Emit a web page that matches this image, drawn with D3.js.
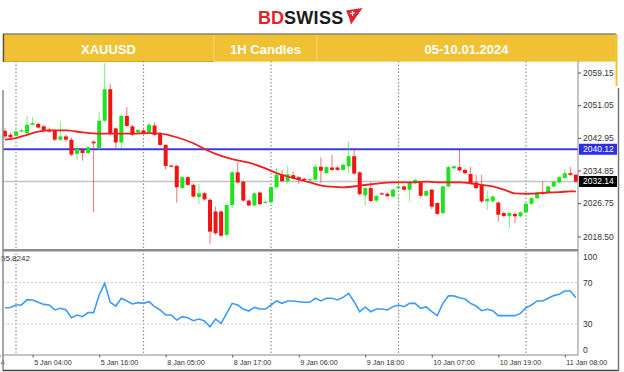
<!DOCTYPE html>
<html>
<head>
<meta charset="utf-8">
<script src="https://cdn.jsdelivr.net/npm/d3@7"></script>
<style>
  body { margin: 0; background: #fff; }
  svg { display: block; font-family: "Liberation Sans", Arial, sans-serif; }
</style>
</head>
<body>
<svg id="chart"></svg>
<script>
// ---- data ----
const symbol = 'XAUUSD';
const timeframe = '1H Candles';
const period = '05-10.01.2024';

// hourly bars, index 0 = 4 Jan 22:00
const opens = [2044.7,2043.7,2043.5,2044.5,2044.1,2046.2,2046.4,2045.8,2045.0,2044.8,2042.5,2043.3,2042.5,2039.0,2040.0,2039.2,2042.0,2040.4,2047.2,2055.0,
  2045.3,2041.8,2048.4,2045.8,2044.3,2044.8,2044.3,2046.0,2044.1,2041.2,2036.1,2036.0,2030.5,2033.2,2031.3,2028.3,2029.2,2027.6,2024.7,2024.7,
  2018.9,2026.3,2034.4,2032.1,2027.4,2026.2,2029.4,2026.9,2027.0,2030.7,2033.8,2032.2,2033.7,2033.2,2032.8,2032.4,2032.6,2035.8,2034.2,2035.6,
  2035.6,2035.0,2035.9,2038.4,2034.4,2028.7,2030.5,2027.4,2029.2,2029.1,2028.4,2030.5,2030.9,2030.1,2031.7,2031.9,2028.6,2030.1,2026.8,2024.3,
  2030.9,2035.4,2035.7,2035.0,2034.0,2031.9,2031.3,2027.2,2027.2,2026.9,2024.3,2023.6,2024.1,2023.5,2024.5,2026.6,2028.0,2029.4,2029.4,2030.9,
  2031.9,2033.0,2034.2,2033.8];
const highs = [2045.3,2044.2,2045.0,2045.2,2048.4,2048.1,2046.8,2046.2,2045.5,2045.2,2047.0,2043.8,2043.0,2040.6,2040.4,2041.0,2042.3,2049.5,2061.5,2056.4,
  2045.6,2048.6,2050.6,2046.1,2045.2,2045.1,2046.8,2046.8,2044.4,2041.4,2036.3,2036.2,2033.5,2033.5,2031.6,2031.5,2029.5,2027.9,2025.9,2025.0,
  2026.6,2034.7,2036.9,2032.4,2027.7,2029.5,2029.7,2027.3,2031.0,2035.4,2035.0,2035.9,2034.6,2033.5,2033.1,2032.9,2036.4,2038.1,2036.0,2038.7,
  2035.9,2036.6,2042.1,2040.2,2034.7,2030.8,2031.9,2028.8,2029.5,2029.4,2030.4,2031.2,2031.2,2032.2,2033.0,2032.2,2030.1,2030.3,2027.0,2031.2,
  2036.0,2036.1,2040.0,2035.4,2035.7,2033.8,2033.8,2029.7,2028.7,2027.2,2024.6,2024.6,2024.4,2024.8,2026.9,2028.3,2029.7,2032.1,2031.2,2032.4,
  2033.5,2035.2,2035.7,2034.1];
const lows = [2042.8,2042.6,2043.2,2044.3,2043.9,2046.0,2045.2,2044.3,2044.2,2042.1,2042.2,2042.0,2038.4,2037.5,2037.3,2038.8,2024.5,2040.0,2046.9,2043.5,
  2040.4,2040.4,2045.6,2043.4,2044.0,2043.9,2044.0,2043.4,2040.9,2035.0,2035.6,2026.9,2030.3,2031.0,2028.1,2026.6,2027.4,2016.7,2018.9,2018.4,
  2018.5,2025.5,2031.6,2027.1,2025.9,2025.9,2026.2,2026.6,2026.7,2030.4,2031.9,2031.6,2032.6,2031.5,2032.3,2032.2,2032.3,2031.8,2033.9,2034.7,
  2034.8,2034.8,2034.2,2033.8,2028.7,2026.1,2026.9,2026.9,2028.8,2028.3,2028.1,2030.2,2029.8,2027.2,2031.5,2028.0,2028.3,2025.3,2023.8,2024.0,
  2030.6,2035.2,2034.6,2033.8,2031.4,2030.2,2026.8,2025.1,2026.9,2022.2,2023.2,2020.6,2021.8,2023.2,2024.2,2026.3,2027.7,2028.8,2029.1,2030.6,
  2031.6,2032.7,2033.5,2031.8];
const closes = [2043.3,2043.1,2044.5,2044.8,2046.2,2046.6,2045.5,2044.6,2044.5,2042.5,2043.3,2042.5,2038.8,2040.2,2039.2,2040.6,2041.6,2047.2,2055.0,2043.9,
  2041.8,2048.4,2045.9,2043.7,2044.9,2044.1,2046.2,2043.7,2041.2,2036.0,2035.8,2030.7,2033.2,2031.3,2028.4,2029.2,2027.7,2019.7,2019.3,2018.7,
  2026.3,2034.4,2031.9,2027.4,2026.2,2029.2,2026.5,2027.1,2030.7,2033.8,2032.2,2033.9,2032.9,2032.5,2032.5,2032.7,2035.8,2034.8,2035.7,2035.0,
  2035.0,2036.3,2038.4,2034.1,2029.0,2030.5,2027.3,2028.6,2029.0,2028.5,2030.1,2030.9,2030.1,2031.9,2032.5,2028.6,2029.8,2025.9,2024.1,2030.9,
  2035.7,2035.9,2034.9,2034.2,2031.7,2030.5,2027.2,2027.8,2028.4,2023.9,2023.6,2024.3,2023.5,2024.5,2026.6,2028.0,2029.4,2029.1,2030.9,2032.1,
  2033.2,2034.2,2033.8,2032.1];

// moving average, read at sample bars: [bar, price]
const maPoints = [[0,2042.5],[2,2042.9],[4,2043.7],[6,2044.5],[8,2044.8],[11,2044.8],[14,2044.3],[17,2044.0],[20,2044.0],[23,2044.0],
  [26,2044.1],[28,2044.0],[31,2043.1],[34,2041.6],[36,2040.2],[38,2039.0],[41,2037.7],[44,2036.8],[47,2035.4],[49,2034.2],
  [52,2033.0],[55,2031.9],[58,2030.9],[61,2030.7],[64,2031.1],[67,2031.6],[70,2031.9],[73,2031.9],[76,2032.1],[79,2031.9],
  [82,2031.9],[84,2031.7],[86,2031.3],[88,2030.9],[90,2030.1],[92,2029.2],[94,2029.1],[96,2029.2],[98,2029.4],[100,2029.5],
  [102,2029.7],[103,2029.7]];

const rsi = [45.8,46,48.4,48.5,53.6,53.3,51,49,48.4,43.6,45.2,43.8,36.1,38.7,37.1,41,41,58.1,69.4,51,
  47.4,54.9,52.3,49.4,50.7,50,51.6,46.8,43.6,38.7,38.7,33.9,37.1,36.1,33.2,34.8,32.9,27.4,34.8,30.6,
  40.3,50,48.4,44.5,42.6,46.1,44.5,44.5,48.4,52.3,50,52.3,52.3,51.6,51,51,54.9,52.3,54.9,54.9,
  53.3,55.8,59.7,51.6,41.9,46.5,41.9,44.5,44.5,43.6,46.8,48.4,46.8,50,50,45.2,46.5,41.9,38.1,50,
  57.2,57.2,55.5,54.2,50,47.4,42.9,44.2,42.9,38.1,38.1,38.1,38.1,40.3,45.8,48.4,52.3,52.3,54.9,57.5,
  58.8,62,62,55.5];
const rsiCaption = '55.8242';
const rsiLevels = [70, 30];
const rsiTicks = [100, 70, 30, 0];

const priceTicks = [2059.15, 2051.05, 2042.95, 2034.85, 2026.75, 2018.50];
const blueLevel = 2040.12;
const lastPrice = 2032.14;

const dayStarts = [2, 25, 48, 71, 94];
const timeBars = [-1, 5, 17, 29, 41, 53, 65, 77, 89, 101];
const timeLabels = ['4', '5 Jan 04:00', '5 Jan 16:00', '8 Jan 05:00', '8 Jan 17:00',
  '9 Jan 06:00', '9 Jan 18:00', '10 Jan 07:00', '10 Jan 19:00', '11 Jan 08:00'];


class CandleChart {

  constructor(_config) {
    this.config = {
      parentElement: _config.parentElement,
      containerWidth: 624,
      containerHeight: 372,
      left: 3,
      right: 578,
      priceTop: 61,
      priceBottom: 249,
      rsiTop: 251.7,
      rsiBottom: 355
    };
    this.initVis();
  }

  initVis() {
    let vis = this;
    const c = vis.config;

    vis.svg = d3.select(c.parentElement)
      .attr('width', c.containerWidth)
      .attr('height', c.containerHeight);

    vis.svg.append('rect')
      .attr('width', c.containerWidth)
      .attr('height', c.containerHeight)
      .attr('fill', '#fff');

    // bar index -> x
    vis.xScale = d3.scaleLinear().domain([2, 94]).range([16, 526]);
    vis.yPrice = d3.scaleLinear().domain([2015.4, 2062.0]).range([c.priceBottom, c.priceTop]);
    vis.yRsi = d3.scaleLinear().domain([0, 100]).range([c.rsiBottom, c.rsiTop]);

    vis.svg.append('defs').append('clipPath')
      .attr('id', 'plot-mask')
      .append('rect')
      .attr('x', c.left)
      .attr('y', c.priceTop)
      .attr('width', c.right - c.left)
      .attr('height', c.rsiBottom - c.priceTop);

    vis.drawHeader();
  }

  drawHeader() {
    let vis = this;

    // logo
    const logo = vis.svg.append('text')
      .attr('x', 258)
      .attr('y', 24)
      .attr('font-size', 18)
      .attr('font-weight', 'bold');
    logo.append('tspan').attr('fill', '#e3232b').text('BD');
    logo.append('tspan').attr('fill', '#1b1b1b').attr('letter-spacing', 0.3).text('SWISS');

    vis.svg.append('path')
      .attr('d', 'M346,10.5 L362.5,8 L351,24.5 L349,17.5 Z')
      .attr('fill', '#e3232b');
    vis.svg.append('path')
      .attr('d', 'M350,13.6 L355,12.8 M352.4,11 L352.6,16')
      .attr('stroke', '#fff')
      .attr('stroke-width', 1.1);

    // yellow title banner
    const cells = [
      { x0: 3, x1: 214, label: symbol },
      { x0: 214, x1: 317, label: timeframe },
      { x0: 317, x1: 616, label: period }
    ];
    const banner = vis.svg.append('g');
    banner.selectAll('rect')
      .data(cells)
      .join('rect')
      .attr('x', d => d.x0)
      .attr('y', 34)
      .attr('width', d => d.x1 - d.x0)
      .attr('height', 27.5)
      .attr('fill', '#f0c233')
      .attr('stroke', '#f6d67a')
      .attr('stroke-width', 0.8);
    banner.selectAll('text')
      .data(cells)
      .join('text')
      .attr('x', d => (d.x0 + d.x1) / 2)
      .attr('y', 49)
      .attr('dy', '0.35em')
      .attr('text-anchor', 'middle')
      .attr('fill', '#fff')
      .attr('font-size', 13)
      .attr('font-weight', 'bold')
      .text(d => d.label);

    banner.append('line')
      .attr('x1', 3).attr('x2', 616).attr('y1', 34).attr('y2', 34)
      .attr('stroke', '#5a5a5a').attr('stroke-width', 1);
    banner.append('line')
      .attr('x1', 3).attr('x2', 214).attr('y1', 61.5).attr('y2', 61.5)
      .attr('stroke', '#d9a62a').attr('stroke-width', 1);
    banner.append('line')
      .attr('x1', 3.5).attr('x2', 3.5).attr('y1', 34).attr('y2', 62)
      .attr('stroke', '#555').attr('stroke-width', 1.5);
    banner.append('line')
      .attr('x1', 616.5).attr('x2', 616.5).attr('y1', 34).attr('y2', 86)
      .attr('stroke', '#f0c233').attr('stroke-width', 2);
  }

  renderVis() {
    let vis = this;
    const c = vis.config;
    const x = vis.xScale;
    const yP = vis.yPrice;
    const yR = vis.yRsi;

    const grid = vis.svg.append('g');
    const plot = vis.svg.append('g').attr('clip-path', 'url(#plot-mask)');

    // daily dotted grid
    grid.selectAll('.day-line')
      .data(dayStarts)
      .join('line')
      .attr('class', 'day-line')
      .attr('x1', d => x(d)).attr('x2', d => x(d))
      .attr('y1', c.priceTop).attr('y2', c.rsiBottom)
      .attr('stroke', '#8f8f8f')
      .attr('stroke-width', 1.2)
      .attr('stroke-dasharray', '1.5,2');

    // rsi levels
    grid.selectAll('.rsi-level')
      .data(rsiLevels)
      .join('line')
      .attr('class', 'rsi-level')
      .attr('x1', c.left).attr('x2', c.right)
      .attr('y1', d => yR(d)).attr('y2', d => yR(d))
      .attr('stroke', '#c8c8c8')
      .attr('stroke-dasharray', '2,2');

    // horizontal price lines
    grid.append('line')
      .attr('x1', c.left).attr('x2', c.right)
      .attr('y1', yP(lastPrice)).attr('y2', yP(lastPrice))
      .attr('stroke', '#c4c4c4').attr('stroke-width', 1.5);
    grid.append('line')
      .attr('x1', c.left).attr('x2', c.right)
      .attr('y1', yP(blueLevel)).attr('y2', yP(blueLevel))
      .attr('stroke', '#3c3cdc').attr('stroke-width', 2);

    // candles
    const bars = d3.range(opens.length);
    const upColor = '#1fe31f', downColor = '#f21414';
    const color = i => closes[i] >= opens[i] ? upColor : downColor;

    plot.selectAll('.wick')
      .data(bars)
      .join('line')
      .attr('class', 'wick')
      .attr('x1', i => x(i)).attr('x2', i => x(i))
      .attr('y1', i => yP(highs[i])).attr('y2', i => yP(lows[i]))
      .attr('stroke', color)
      .attr('stroke-opacity', 0.6)
      .attr('stroke-width', 1);

    plot.selectAll('.body')
      .data(bars)
      .join('rect')
      .attr('class', 'body')
      .attr('x', i => x(i) - 2)
      .attr('width', 4)
      .attr('y', i => yP(Math.max(opens[i], closes[i])))
      .attr('height', i => Math.max(1.2, Math.abs(yP(opens[i]) - yP(closes[i]))))
      .attr('fill', color);

    // moving average
    plot.append('path')
      .datum(maPoints)
      .attr('d', d3.line().x(d => x(d[0])).y(d => yP(d[1])).curve(d3.curveMonotoneX))
      .attr('fill', 'none')
      .attr('stroke', '#ee2020')
      .attr('stroke-width', 1.8);

    // rsi
    plot.append('path')
      .datum(rsi)
      .attr('d', d3.line().x((d, i) => x(i)).y(d => yR(d)))
      .attr('fill', 'none')
      .attr('stroke', '#3d9cf5')
      .attr('stroke-width', 1.6);

    vis.svg.append('text')
      .attr('x', 1)
      .attr('y', 261)
      .attr('font-size', 8)
      .attr('fill', '#333')
      .text(rsiCaption);

    // panel separators and axis lines
    vis.svg.append('line')
      .attr('x1', c.left).attr('x2', c.right).attr('y1', 250.2).attr('y2', 250.2)
      .attr('stroke', '#8c8c8c').attr('stroke-width', 2.4);
    vis.svg.append('line')
      .attr('x1', c.left).attr('x2', c.right).attr('y1', c.rsiBottom).attr('y2', c.rsiBottom)
      .attr('stroke', '#888');
    vis.svg.append('line')
      .attr('x1', c.right).attr('x2', c.right).attr('y1', c.priceTop).attr('y2', c.rsiBottom)
      .attr('stroke', '#888');

    // price axis
    const priceAxis = d3.axisRight(yP)
      .tickValues(priceTicks)
      .tickFormat(d3.format('.2f'))
      .tickSize(3)
      .tickPadding(2);
    vis.svg.append('g')
      .attr('transform', `translate(${c.right},0)`)
      .call(priceAxis)
      .call(g => g.select('.domain').remove())
      .call(g => g.selectAll('line').attr('stroke', '#555'))
      .call(g => g.selectAll('text').attr('fill', '#333').attr('font-size', 8.5)
        .attr('font-family', '"Liberation Sans", Arial, sans-serif'));

    // price level boxes
    const boxes = [
      { v: blueLevel, fill: '#2e2ee8' },
      { v: lastPrice, fill: '#000' }
    ];
    const box = vis.svg.append('g').selectAll('g')
      .data(boxes)
      .join('g')
      .attr('transform', d => `translate(${c.right + 1},${yP(d.v)})`);
    box.append('rect')
      .attr('y', -5.5).attr('width', 38).attr('height', 11)
      .attr('fill', d => d.fill);
    box.append('text')
      .attr('x', 4).attr('dy', '0.35em')
      .attr('font-size', 8.5).attr('fill', '#fff')
      .text(d => d3.format('.2f')(d.v));

    // rsi axis labels
    vis.svg.append('g').selectAll('text')
      .data(rsiTicks)
      .join('text')
      .attr('x', c.right + 5)
      .attr('y', d => Math.min(Math.max(yR(d), c.rsiTop + 5), c.rsiBottom - 5))
      .attr('dy', '0.35em')
      .attr('font-size', 8.5)
      .attr('fill', '#333')
      .text(d => d);

    // time axis
    const timeAxis = d3.axisBottom(x)
      .tickValues(timeBars)
      .tickFormat((d, i) => timeLabels[i])
      .tickSize(2.5)
      .tickPadding(2);
    vis.svg.append('g')
      .attr('transform', `translate(0,${c.rsiBottom})`)
      .call(timeAxis)
      .call(g => g.select('.domain').remove())
      .call(g => g.selectAll('line').attr('stroke', '#555'))
      .call(g => g.selectAll('text')
        .attr('text-anchor', 'start')
        .attr('dx', 1)
        .attr('fill', '#333')
        .attr('font-size', 7.2)
        .attr('font-family', '"Liberation Sans", Arial, sans-serif'));

    // outer frame
    vis.svg.append('line')
      .attr('x1', 3).attr('x2', 3).attr('y1', 90).attr('y2', 371)
      .attr('stroke', '#8a8a8a').attr('stroke-width', 1.5);
    vis.svg.append('line')
      .attr('x1', 3).attr('x2', 619).attr('y1', 370.5).attr('y2', 370.5)
      .attr('stroke', '#444').attr('stroke-width', 1.5);
    vis.svg.append('line')
      .attr('x1', 618.5).attr('x2', 618.5).attr('y1', 88).attr('y2', 371)
      .attr('stroke', '#777').attr('stroke-width', 1.5);
  }
}

const chart = new CandleChart({ parentElement: '#chart' });
chart.renderVis();
</script>
</body>
</html>
